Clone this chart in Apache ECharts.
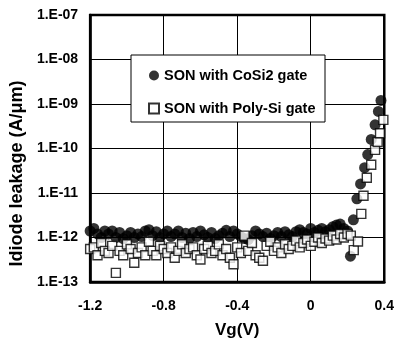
<!DOCTYPE html>
<html>
<head>
<meta charset="utf-8">
<script src="https://cdn.jsdelivr.net/npm/echarts@6/dist/echarts.min.js"></script>
<style>
  html, body { margin: 0; padding: 0; background: #fff; }
  #app { width: 397px; height: 344px; }
</style>
</head>
<body>
<div id="app"></div>
<script>
// gate voltage sweep (flat part), V
const vgSweep = [
  -1.20, -1.18, -1.16, -1.14, -1.12, -1.10, -1.08, -1.06, -1.04, -1.02,
  -1.00, -0.98, -0.96, -0.94, -0.92, -0.90, -0.88, -0.86, -0.84, -0.82,
  -0.80, -0.78, -0.76, -0.74, -0.72, -0.70, -0.68, -0.66, -0.64, -0.62,
  -0.60, -0.58, -0.56, -0.54, -0.52, -0.50, -0.48, -0.46, -0.44, -0.42,
  -0.40, -0.38, -0.36, -0.34, -0.32, -0.30, -0.28, -0.26, -0.24, -0.22,
  -0.20, -0.18, -0.16, -0.14, -0.12, -0.10, -0.08, -0.06, -0.04, -0.02,
  0.00, 0.02, 0.04, 0.06, 0.08, 0.10, 0.12, 0.14, 0.16, 0.18, 0.20
];

// SON with CoSi2 gate, A/um
const cosiSweep = [
  1.4e-12, 1.6e-12, 1.2e-12, 1.0e-12, 1.4e-12, 1.2e-12, 1.4e-12, 1.0e-12, 1.3e-12, 0.95e-12,
  1.1e-12, 1.3e-12, 1.0e-12, 1.2e-12, 1.05e-12, 1.4e-12, 1.5e-12, 1.1e-12, 1.35e-12, 1.0e-12,
  1.2e-12, 1.4e-12, 1.05e-12, 1.2e-12, 1.4e-12, 1.0e-12, 1.25e-12, 0.95e-12, 1.3e-12, 1.05e-12,
  1.4e-12, 1.15e-12, 1.0e-12, 1.3e-12, 0.95e-12, 1.1e-12, 1.25e-12, 1.45e-12, 1.05e-12, 1.4e-12,
  1.2e-12, 1.05e-12, 0.95e-12, 0.9e-12, 1.1e-12, 1.4e-12, 1.2e-12, 1.05e-12, 1.25e-12, 0.95e-12,
  1.1e-12, 1.3e-12, 1.05e-12, 1.35e-12, 1.15e-12, 1.05e-12, 1.35e-12, 1.5e-12, 1.3e-12, 1.2e-12,
  1.6e-12, 1.3e-12, 1.45e-12, 1.6e-12, 1.35e-12, 1.5e-12, 1.75e-12, 1.9e-12, 2.0e-12, 1.6e-12, 1.4e-12
];
const cosiRiseVg = [0.216, 0.232, 0.251, 0.271, 0.293, 0.310, 0.329, 0.350, 0.368, 0.382];
const cosiRise = [3.8e-13, 2.5e-12, 7.4e-12, 1.6e-11, 3.7e-11, 7.3e-11, 1.6e-10, 3.4e-10, 6.8e-10, 1.2e-9];

// SON with Poly-Si gate, A/um
const polySweep = [
  5.5e-13, 6.0e-13, 4.0e-13, 7.5e-13, 5.0e-13, 4.5e-13, 6.5e-13, 1.6e-13, 5.0e-13, 4.0e-13,
  7.0e-13, 5.5e-13, 2.7e-13, 4.5e-13, 6.0e-13, 4.0e-13, 8.0e-13, 5.0e-13, 4.0e-13, 6.5e-13,
  5.5e-13, 4.5e-13, 6.0e-13, 3.5e-13, 5.0e-13, 7.0e-13, 4.5e-13, 5.5e-13, 6.0e-13, 4.0e-13,
  3.2e-13, 5.5e-13, 6.5e-13, 4.5e-13, 5.0e-13, 7.0e-13, 4.0e-13, 5.5e-13, 3.5e-13, 2.5e-13,
  6.0e-13, 4.5e-13, 1.1e-12, 5.0e-13, 7.5e-13, 4.0e-13, 3.5e-13, 3.0e-13, 6.5e-13, 8.0e-13,
  5.0e-13, 6.0e-13, 4.5e-13, 7.0e-13, 5.5e-13, 6.5e-13, 8.5e-13, 6.0e-13, 7.5e-13, 9.0e-13,
  6.5e-13, 8.0e-13, 1.0e-12, 7.5e-13, 9.5e-13, 8.5e-13, 1.1e-12, 9.0e-13, 1.2e-12, 1.0e-12, 1.2e-12
];
const polyRiseVg = [0.218, 0.234, 0.257, 0.275, 0.287, 0.305, 0.329, 0.350, 0.364, 0.377, 0.395];
const polyRise = [1.1e-12, 5.2e-13, 8.1e-13, 3.4e-12, 8.7e-12, 2.2e-11, 4.3e-11, 9.3e-11, 1.4e-10, 2.2e-10, 4.4e-10];

const xTicks = [-1.2, -0.8, -0.4, 0, 0.4];
const seriesNames = ["SON with CoSi2 gate", "SON with Poly-Si gate"];

const font = 'Arial, "Liberation Sans", sans-serif';

function pairs(xs, ys) {
  return xs.map((x, i) => [x, ys[i]]);
}

let myChart = echarts.init(document.getElementById("app"));
let option = {
  backgroundColor: "#fff",
  animation: false,
  grid: {
    left: 88,
    right: 11,
    top: 15,
    bottom: 58,
    show: true,
    borderColor: "#000",
    borderWidth: 2.5,
  },
  xAxis: {
    type: "value",
    min: -1.2,
    max: 0.4,
    interval: 0.4,
    name: "Vg(V)",
    nameLocation: "middle",
    nameGap: 40,
    nameTextStyle: { color: "#000", fontFamily: font, fontSize: 17, fontWeight: "bold" },
    axisLine: { show: true, onZero: false, lineStyle: { color: "#000", width: 2.5 } },
    axisTick: { show: false },
    axisLabel: {
      margin: 17,
      color: "#000",
      fontFamily: font,
      fontSize: 14,
      fontWeight: "bold",
      formatter: (v) => {
        let t = xTicks.find((k) => Math.abs(k - v) < 1e-6);
        return t === undefined ? "" : String(t);
      },
    },
    splitLine: { show: true, lineStyle: { color: "#000", width: 1 } },
  },
  yAxis: {
    type: "log",
    logBase: 10,
    min: 1e-13,
    max: 1e-7,
    name: "Idiode leakage (A/\u03bcm)",
    nameLocation: "middle",
    nameGap: 60,
    nameTextStyle: {
      color: "#000",
      fontFamily: font,
      fontSize: 18,
      fontWeight: "bold",
      padding: [0, 50, 0, 0],
    },
    axisLine: { show: true, onZero: false, lineStyle: { color: "#000", width: 2.5 } },
    axisTick: { show: false },
    axisLabel: {
      margin: 12,
      color: "#000",
      fontFamily: font,
      fontSize: 14,
      fontWeight: "bold",
      formatter: (v) => {
        let e = Math.round(Math.log10(v));
        return "1.E-" + String(-e).padStart(2, "0");
      },
    },
    splitLine: { show: true, lineStyle: { color: "#000", width: 1 } },
  },
  graphic: [
    {
      type: "rect",
      z: 10,
      shape: { x: 131, y: 55, width: 194, height: 67 },
      style: { fill: "#fff", stroke: "#000", lineWidth: 1 },
    },
  ],
  legend: {
    z: 11,
    orient: "vertical",
    left: 143,
    top: 63,
    itemGap: 18,
    itemWidth: 10,
    itemHeight: 10,
    data: [
      { name: seriesNames[0], icon: "circle" },
      { name: seriesNames[1], icon: "rect" },
    ],
    textStyle: { color: "#000", fontFamily: font, fontSize: 14.5, fontWeight: "bold" },
  },
  series: [
    {
      name: seriesNames[0],
      type: "scatter",
      symbol: "circle",
      symbolSize: 11,
      itemStyle: { color: "#000" },
      data: pairs(vgSweep, cosiSweep).concat(pairs(cosiRiseVg, cosiRise)),
    },
    {
      name: seriesNames[1],
      type: "scatter",
      symbol: "rect",
      symbolSize: 9,
      itemStyle: { color: "#fff", borderColor: "#000", borderWidth: 1.4 },
      data: pairs(vgSweep, polySweep).concat(pairs(polyRiseVg, polyRise)),
    },
  ],
};
myChart.setOption(option);
</script>
</body>
</html>
